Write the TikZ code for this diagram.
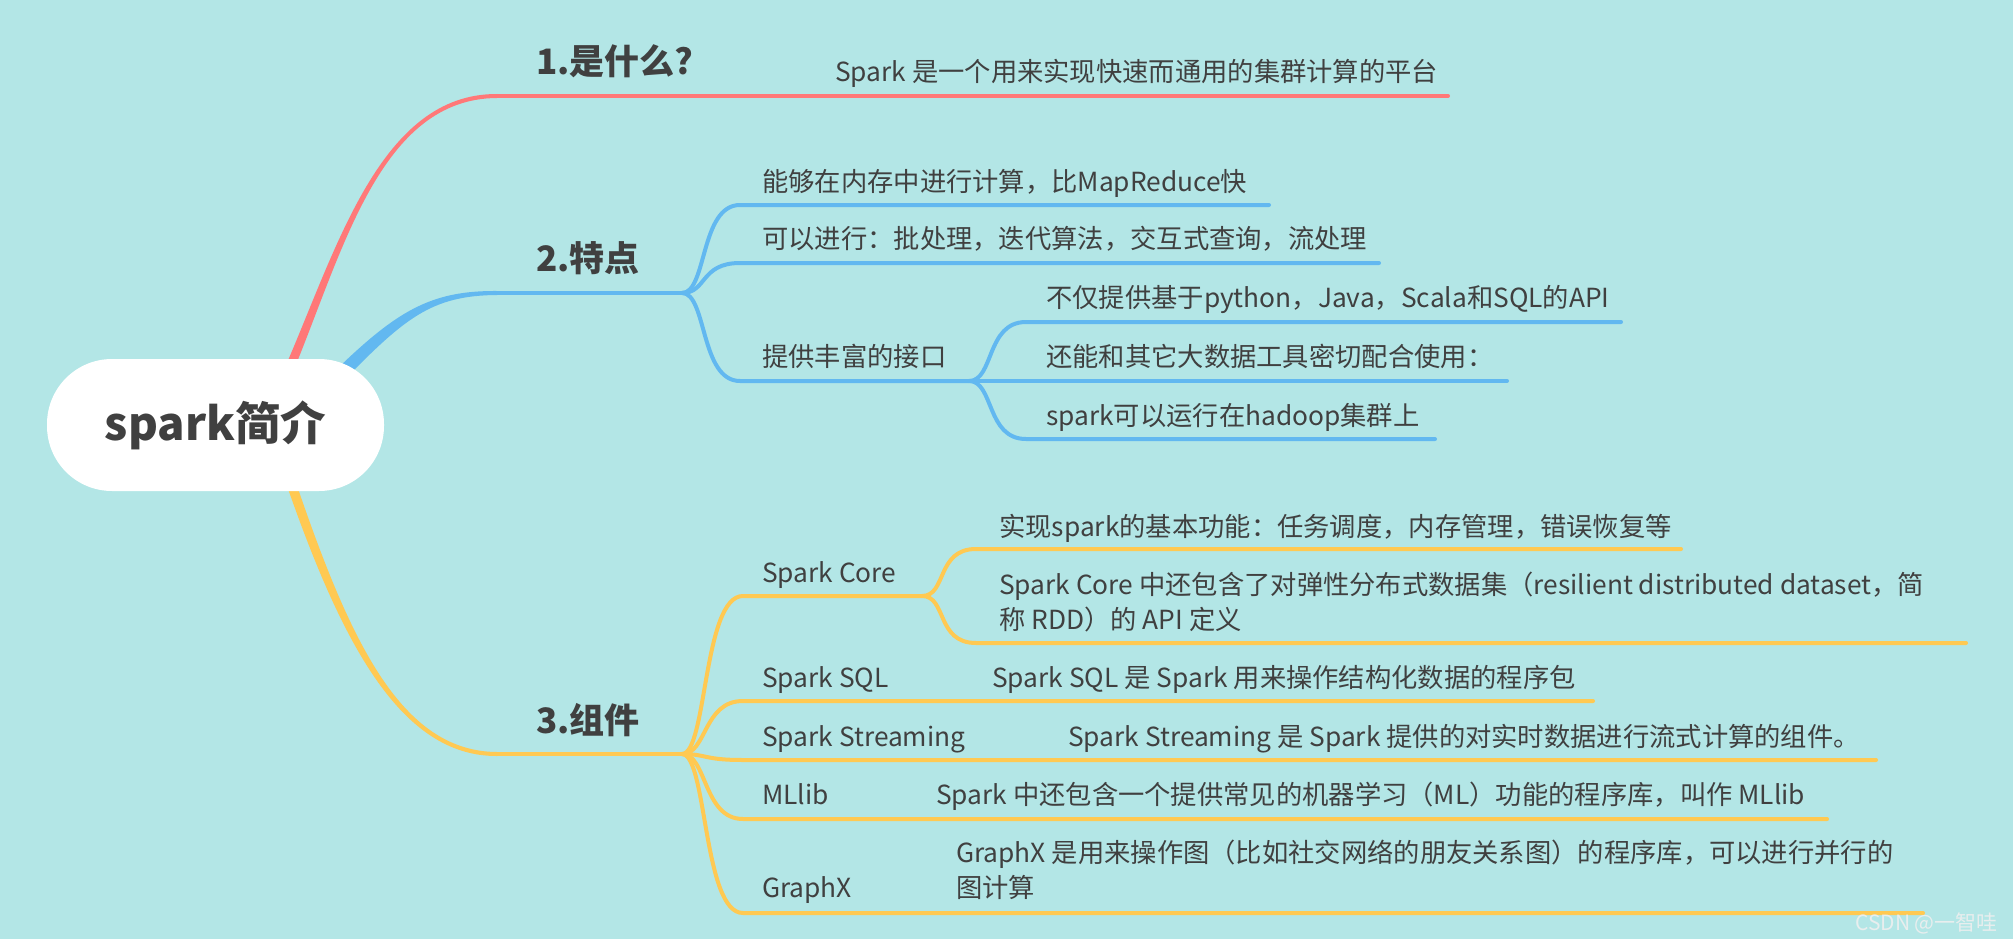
\documentclass[tikz,border=0pt]{standalone}
\usepackage{fontspec}
\setmainfont{Noto Sans CJK SC}
\usetikzlibrary{calc}
\definecolor{bgc}{HTML}{B3E6E6}
\definecolor{redc}{HTML}{FF7878}
\definecolor{bluec}{HTML}{62B8F0}
\definecolor{yelc}{HTML}{FFC952}
\definecolor{txt}{HTML}{404040}
\definecolor{wmc}{HTML}{E8EEEE}
\begin{document}
\begin{tikzpicture}[x=1pt,y=-1pt,
  lvlone/.style={font=\bfseries\fontsize{35}{42}\selectfont,text=txt,inner sep=0pt,anchor=base west},
  lvltwo/.style={font=\fontsize{26.3}{35}\selectfont,text=txt,inner sep=0pt,anchor=base west,align=left},
  sub/.style={line width=4pt,line cap=round},
  branch/.style={to path={.. controls ($(\tikztostart)+(25,0)$) and ($(\tikztotarget)+(-40,0)$) .. (\tikztotarget)}}
]
\useasboundingbox (0,0) rectangle (2013,939);
\fill[bgc] (0,0) rectangle (2013,939);

% ---------- key coordinates ----------
\coordinate (J1) at (497,96);   \coordinate (J1e) at (1448,96);
\coordinate (H2) at (497,293);  \coordinate (J2) at (682,293);
\coordinate (H3) at (497,754);  \coordinate (J3) at (682,754);

% ---------- main tapered branches ----------
\fill[redc] (283.8,370.2) .. controls (337,248.5) and (380,93.5) .. (497,94)
  -- (497,98) .. controls (380,98.5) and (343,251.5) .. (292.2,373.8) -- cycle;
\fill[bluec] (330.4,375.4) .. controls (396,311) and (430,290.5) .. (497,291)
  -- (497,295) .. controls (430,295.5) and (404,319) .. (339.6,384.6) -- cycle;
\fill[yelc] (294.5,478.4) .. controls (349,638.7) and (400,751.5) .. (497,752)
  -- (497,756) .. controls (400,756.5) and (341,641.3) .. (285.5,481.6) -- cycle;

\draw[redc,sub] (J1) -- (J1e);
\draw[bluec,sub] (H2) -- (J2);
\draw[yelc,sub] (H3) -- (J3);

% ---------- central topic ----------
\node[fill=white,rounded corners=65pt,minimum width=337pt,minimum height=132pt,inner sep=0pt,
      font=\bfseries\fontsize{45.5}{52}\selectfont,text=txt] (root) at (215.5,425) {spark简介};

% ---------- level one labels ----------
\node[lvlone] (t1) at (536,75) {1.是什么?};
\node[lvlone] (t2) at (536,271) {2.特点};
\node[lvlone] (t3) at (536,733) {3.组件};

\node[lvltwo] (t1a) at (835,81.5) {Spark 是一个用来实现快速而通用的集群计算的平台};

% ---------- blue sub-branches ----------
\coordinate (b1) at (740,205); \coordinate (b1e) at (1269,205);
\coordinate (b2) at (740,263); \coordinate (b2e) at (1379,263);
\coordinate (b3) at (740,381); \coordinate (J23) at (969,381);
\coordinate (b31) at (1026,322); \coordinate (b31e) at (1621,322);
\coordinate (b32) at (1026,381); \coordinate (b32e) at (1507,381);
\coordinate (b33) at (1026,439); \coordinate (b33e) at (1435,439);

\draw[bluec,sub] (J2) to[branch] (b1) -- (b1e);
\draw[bluec,sub] (J2) to[branch] (b2) -- (b2e);
\draw[bluec,sub] (J2) to[branch] (b3) -- (J23);
\draw[bluec,sub] (J23) to[branch] (b31) -- (b31e);
\draw[bluec,sub] (J23) -- (b32e);
\draw[bluec,sub] (J23) to[branch] (b33) -- (b33e);

\node[lvltwo] (tb1) at (762,191.5) {能够在内存中进行计算，比MapReduce快};
\node[lvltwo] (tb2) at (762,248.5) {可以进行：批处理，迭代算法，交互式查询，流处理};
\node[lvltwo] (tb3) at (762,366.5) {提供丰富的接口};
\node[lvltwo] (tb31) at (1046,307.5) {不仅提供基于python，Java，Scala和SQL的API};
\node[lvltwo] (tb32) at (1046,366.5) {还能和其它大数据工具密切配合使用：};
\node[lvltwo] (tb33) at (1046,425.5) {spark可以运行在hadoop集群上};

% ---------- yellow sub-branches ----------
\coordinate (c1) at (743,596); \coordinate (J33) at (922,596);
\coordinate (c11) at (976,549); \coordinate (c11e) at (1681,549);
\coordinate (c12) at (976,643); \coordinate (c12e) at (1966,643);
\coordinate (c2) at (743,701); \coordinate (c2e) at (1593,701);
\coordinate (c3) at (743,760); \coordinate (c3e) at (1876,760);
\coordinate (c4) at (743,819); \coordinate (c4e) at (1827,819);
\coordinate (c5) at (743,913); \coordinate (c5e) at (1923,913);

\draw[yelc,sub] (J3) to[branch] (c1) -- (J33);
\draw[yelc,sub] (J33) to[branch] (c11) -- (c11e);
\draw[yelc,sub] (J33) to[branch] (c12) -- (c12e);
\draw[yelc,sub] (J3) to[branch] (c2) -- (c2e);
\draw[yelc,sub] (J3) to[branch] (c3) -- (c3e);
\draw[yelc,sub] (J3) to[branch] (c4) -- (c4e);
\draw[yelc,sub] (J3) to[branch] (c5) -- (c5e);

\node[lvltwo] (tc1) at (762,582.5) {Spark Core};
\node[lvltwo] (tc11) at (999,536.5) {实现spark的基本功能：任务调度，内存管理，错误恢复等};
\node[lvltwo] (tc12) at (999,629.5) {Spark Core 中还包含了对弹性分布式数据集（resilient distributed dataset，简\\称 RDD）的 API 定义};
\node[lvltwo] (tc2) at (762,687.5) {Spark SQL};
\node[lvltwo] (tc2a) at (992,687.5) {Spark SQL 是 Spark 用来操作结构化数据的程序包};
\node[lvltwo] (tc3) at (762,746.5) {Spark Streaming};
\node[lvltwo] (tc3a) at (1068,746.5) {Spark Streaming 是 Spark 提供的对实时数据进行流式计算的组件。};
\node[lvltwo] (tc4) at (762,804.5) {MLlib};
\node[lvltwo] (tc4a) at (936,804.5) {Spark 中还包含一个提供常见的机器学习（ML）功能的程序库，叫作 MLlib};
\node[lvltwo] (tc5) at (762,897.5) {GraphX};
\node[lvltwo] (tc5a) at (956,897.5) {GraphX 是用来操作图（比如社交网络的朋友关系图）的程序库，可以进行并行的\\图计算};

% ---------- watermark ----------
\node[font=\fontsize{21}{24}\selectfont,text=wmc,inner sep=0pt,anchor=base west] (wm) at (1855,930) {CSDN @一智哇};
\end{tikzpicture}
\end{document}
